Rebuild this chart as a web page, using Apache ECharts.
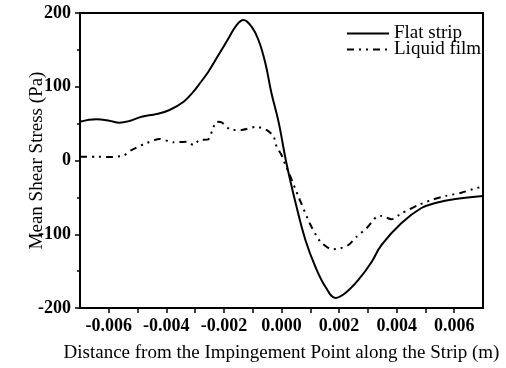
<!DOCTYPE html>
<html>
<head>
<meta charset="utf-8">
<script src="https://cdn.jsdelivr.net/npm/echarts@6/dist/echarts.min.js"></script>
<style>
  html, body { margin: 0; padding: 0; background: #fff; }
  #chart { width: 506px; height: 368px; }
</style>
</head>
<body>
<div id="chart"></div>
<script>
// Distance from the impingement point (m) and mean shear stress (Pa)
const flatX = [-0.00700, -0.00643, -0.00598, -0.00563, -0.00528, -0.00486, -0.00434, -0.00389,
  -0.00340, -0.00306, -0.00288, -0.00254, -0.00219, -0.00184, -0.00156, -0.00132, -0.00104,
  -0.00080, -0.00056, -0.00035, -0.00010, 0.00017, 0.00049, 0.00083, 0.00118, 0.00153,
  0.00188, 0.00222, 0.00267, 0.00313, 0.00347, 0.00417, 0.00486, 0.00535, 0.00604, 0.00700];
const flatY = [52.6, 55.9, 54.0, 51.3, 53.6, 59.4, 63.0, 68.5,
  79.7, 93.3, 102.4, 120.4, 143.0, 165.7, 183.7, 190.5, 181.4,
  163.4, 132.0, 91.5, 52.0, -3.4, -57.6, -107.8, -144.4, -171.5,
  -186.4, -179.7, -162.0, -137.6, -114.6, -84.7, -64.4, -57.6, -52.2, -48.1];

const filmX = [-0.00700, -0.00643, -0.00594, -0.00549, -0.00521, -0.00479, -0.00424, -0.00375,
  -0.00330, -0.00306, -0.00285, -0.00254, -0.00240, -0.00226, -0.00208, -0.00174, -0.00139,
  -0.00087, -0.00052, -0.00028, -0.00017, 0.00000, 0.00014, 0.00031, 0.00059, 0.00101,
  0.00135, 0.00174, 0.00205, 0.00233, 0.00261, 0.00295, 0.00330, 0.00347, 0.00382, 0.00417,
  0.00476, 0.00521, 0.00570, 0.00625, 0.00674, 0.00700];
const filmY = [5.2, 5.2, 4.7, 6.5, 14.2, 22.0, 29.2, 24.7,
  25.5, 21.0, 27.8, 28.7, 41.4, 52.6, 51.8, 41.4, 41.4,
  45.8, 41.4, 33.2, 18.7, 7.5, -6.1, -22.0, -49.1, -87.5,
  -110.0, -120.4, -119.0, -114.6, -103.3, -92.0, -76.2, -75.3, -79.7, -71.6,
  -60.3, -53.6, -48.1, -43.7, -37.7, -35.5];

const seriesNames = ['Flat strip', 'Liquid film'];
const xTitle = 'Distance from the Impingement Point along the Strip (m)';
const yTitle = 'Mean Shear Stress (Pa)';

const pairs = (xs, ys) => xs.map((x, i) => [x, ys[i]]);
const serif = 'Liberation Serif, Times New Roman, serif';

const chart = echarts.init(document.getElementById('chart'), null, { renderer: 'canvas' });
chart.setOption({
  animation: false,
  backgroundColor: '#fff',
  grid: {
    left: 80, right: 23, top: 13, bottom: 60,
    show: true, borderColor: '#000', borderWidth: 2, backgroundColor: 'transparent'
  },
  legend: {
    orient: 'vertical',
    left: 341, top: 19,
    itemWidth: 42, itemHeight: 10, itemGap: -3,
    itemStyle: { opacity: 0, borderWidth: 0 },
    textStyle: { fontFamily: serif, fontSize: 19, color: '#000', lineHeight: 15 },
    data: seriesNames
  },
  xAxis: {
    type: 'value',
    min: -0.007, max: 0.007, interval: 0.001,
    name: xTitle, nameLocation: 'middle', nameGap: 36, nameMoveOverlap: false,
    nameTextStyle: { fontFamily: serif, fontSize: 19, color: '#000' },
    axisLine: { onZero: false, lineStyle: { color: '#000', width: 2 } },
    axisTick: { inside: false, length: 5, lineStyle: { color: '#000', width: 1.5 } },
    splitLine: { show: false },
    axisLabel: {
      margin: 9, fontFamily: serif, fontSize: 18, fontWeight: 'bold', color: '#000',
      showMinLabel: false, showMaxLabel: false,
      formatter: v => {
        const k = Math.round(v * 1000);
        if (k % 2 !== 0) return '';
        return k === 0 ? '0.000' : (k / 1000).toFixed(3);
      }
    }
  },
  yAxis: {
    type: 'value',
    min: -200, max: 200, interval: 100,
    name: yTitle, nameLocation: 'middle', nameGap: 33, nameRotate: 90, nameMoveOverlap: false,
    nameTextStyle: { fontFamily: serif, fontSize: 19, color: '#000' },
    axisLine: { show: true, onZero: false, lineStyle: { color: '#000', width: 2 } },
    axisTick: { show: true, inside: false, length: 5, lineStyle: { color: '#000', width: 1.5 } },
    minorTick: { show: true, splitNumber: 2, length: 3, lineStyle: { color: '#000', width: 1.5 } },
    splitLine: { show: false },
    axisLabel: { margin: 9, fontFamily: serif, fontSize: 18, fontWeight: 'bold', color: '#000' }
  },
  series: [
    {
      name: seriesNames[0], type: 'line', data: pairs(flatX, flatY),
      smooth: 0.4, symbol: 'none',
      lineStyle: { color: '#000', width: 2 },
      itemStyle: { color: '#000' }
    },
    {
      name: seriesNames[1], type: 'line', data: pairs(filmX, filmY),
      smooth: 0.2, symbol: 'none',
      lineStyle: { color: '#000', width: 2, type: [7, 5, 2, 5, 2, 5] },
      itemStyle: { color: '#000' }
    }
  ]
});
</script>
</body>
</html>
